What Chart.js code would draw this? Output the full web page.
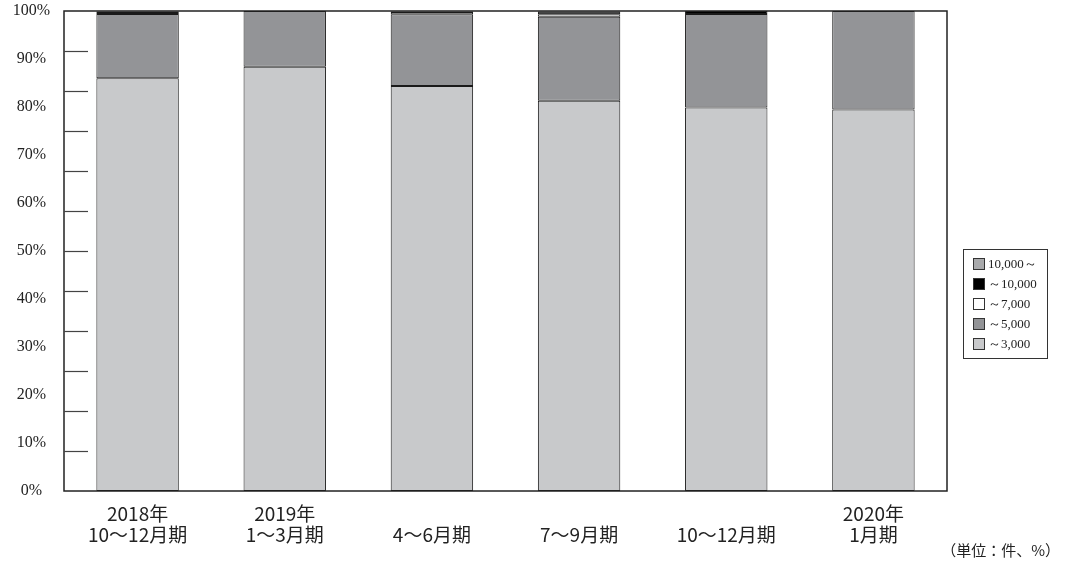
<!DOCTYPE html>
<html>
<head>
<meta charset="utf-8">
<script src="https://cdn.jsdelivr.net/npm/chart.js@4"></script>
<style>
  html, body { margin: 0; padding: 0; background: #fff; }
  #wrap { width: 1069px; height: 562px; }
</style>
</head>
<body>
<div id="wrap"><canvas id="barChart" width="1069" height="562"></canvas></div>
<script>
// categories (quarters)
const categories = [
  ["2018年", "10～12月期"],
  ["2019年", "1～3月期"],
  "4～6月期",
  "7～9月期",
  "10～12月期",
  ["2020年", "1月期"],
];

// shares by amount band (%)
const upTo3000 = [86.0, 88.4, 84.4, 81.3, 79.9, 79.5];
const upTo5000 = [13.4, 11.6, 14.9, 17.5, 19.5, 20.5];
const upTo7000 = [0.4, 0, 0.5, 0.5, 0, 0];
const upTo10000 = [0.1, 0, 0.1, 0.6, 0.6, 0];
const over10000 = [0.1, 0, 0.1, 0.1, 0, 0];

const yTicks = [0, 10, 20, 30, 40, 50, 60, 70, 80, 90, 100];

const seriesLabels = ["～3,000", "～5,000", "～7,000", "～10,000", "10,000～"];
const seriesColors = ["#c8c9cb", "#939497", "#ffffff", "#000000", "#a9aaac"];

const serif = "'Liberation Serif', 'DejaVu Serif', serif";
const jp = "'Noto Sans CJK JP', 'Noto Sans', sans-serif";

// frame, inside tick marks, legend box and unit note
const decorations = {
  id: "decorations",
  afterDraw(chart) {
    const ctx = chart.ctx;
    const area = chart.chartArea;
    const y = chart.scales.y;
    ctx.save();

    ctx.strokeStyle = "#222";
    ctx.lineWidth = 1.5;
    ctx.strokeRect(area.left, area.top, area.right - area.left, area.bottom - area.top);

    // the original has 12 tick marks on the left edge
    ctx.lineWidth = 1.2;
    ctx.strokeStyle = "#444";
    for (let k = 1; k < 12; k++) {
      const py = Math.round(y.getPixelForValue((k * 100) / 12)) + 0.5;
      ctx.beginPath();
      ctx.moveTo(area.left, py);
      ctx.lineTo(area.left + 24, py);
      ctx.stroke();
    }

    // legend
    ctx.lineWidth = 1;
    ctx.strokeStyle = "#333";
    ctx.strokeRect(963.5, 249.5, 84, 109);
    ctx.textBaseline = "middle";
    ctx.textAlign = "left";
    const order = [4, 3, 2, 1, 0];
    order.forEach((i, row) => {
      const cy = 264 + row * 20;
      ctx.fillStyle = seriesColors[i];
      ctx.fillRect(973, cy - 6, 12, 12);
      ctx.strokeStyle = "#333";
      ctx.strokeRect(973.5, cy - 5.5, 11, 11);
      ctx.fillStyle = "#222";
      ctx.font = "13px " + serif;
      ctx.fillText(seriesLabels[i], 988, cy + 1);
    });

    // unit note
    ctx.font = "15px " + jp;
    ctx.textAlign = "right";
    ctx.fillStyle = "#222";
    ctx.fillText("（単位：件、%）", 1060, 550);
    ctx.restore();
  },
};

const datasets = [upTo3000, upTo5000, upTo7000, upTo10000, over10000].map((d, i) => ({
  label: seriesLabels[i],
  data: d,
  backgroundColor: seriesColors[i],
  borderColor: "#1a1a1a",
  borderWidth: 1,
  borderSkipped: false,
  categoryPercentage: 1,
  barPercentage: 0.56,
}));

const ctxBar = document.getElementById("barChart").getContext("2d");
const barChart = new Chart(ctxBar, {
  type: "bar",
  data: { labels: categories, datasets: datasets },
  options: {
    responsive: false,
    animation: false,
    layout: { padding: { left: 0, right: 122, top: 11, bottom: 0 } },
    plugins: { legend: { display: false }, tooltip: { enabled: false } },
    scales: {
      x: {
        stacked: true,
        grid: { display: false, drawTicks: false },
        border: { display: false },
        afterFit(scale) {
          scale.height = 71;
          scale.paddingLeft = 0;
          scale.paddingRight = 0;
        },
        ticks: {
          color: "#222",
          font: { family: jp, size: 19, lineHeight: 1.1 },
          padding: 23,
          crossAlign: "far",
          maxRotation: 0,
          autoSkip: false,
        },
      },
      y: {
        stacked: true,
        min: 0,
        max: 100,
        afterFit(scale) {
          scale.width = 64;
          scale.paddingTop = 0;
          scale.paddingBottom = 0;
        },
        afterBuildTicks(scale) { scale.ticks = yTicks.map((v) => ({ value: v })); },
        grid: { display: false, drawTicks: false },
        border: { display: false },
        ticks: {
          color: "#222",
          font: { family: serif, size: 16 },
          padding: 14,
          crossAlign: "center",
          callback: (v) => v + "%",
        },
      },
    },
  },
  plugins: [decorations],
});
</script>
</body>
</html>
